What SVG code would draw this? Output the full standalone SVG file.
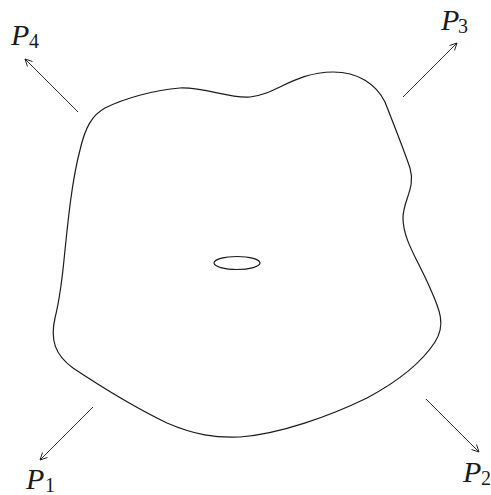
<svg xmlns="http://www.w3.org/2000/svg" width="491" height="495" viewBox="0 0 491 495">
<style>
.shape{fill:none;stroke:#1a1a1a;stroke-width:1.2}
.arr{fill:none;stroke:#1a1a1a;stroke-width:0.9;marker-end:url(#ah)}
.lbl{font-family:"Liberation Serif","DejaVu Serif",serif;font-style:italic;font-size:30px;fill:#1a1a1a}
.sub{font-family:"Liberation Serif","DejaVu Serif",serif;font-size:20px;fill:#1a1a1a}
</style>
<defs>
<marker id="ah" markerUnits="userSpaceOnUse" markerWidth="12" markerHeight="12" refX="0" refY="0" viewBox="-10 -6 12 12" orient="auto">
<path d="M -7,-3.5 L 0,0 L -7,3.5" fill="none" stroke="#1a1a1a" stroke-width="0.9"/>
</marker>
</defs>
<rect width="491" height="495" fill="#ffffff"/>
<g id="region">
<path class="shape" d="M 105,108 C 125,98 155,90 180,88 C 205,87 230,99 250,97 C 275,95 295,72 333,72 C 358,72 376,84 385,102 C 394,125 404,150 410,168 C 416,188 403,200 403,218 C 403,240 418,260 430,288 C 440,310 446,325 435,342 C 420,365 395,383 367,398 C 330,416 280,434 240,437 C 215,438 195,435 167,423 C 140,410 100,386 73,368 C 55,355 50,340 55,318 C 60,298 62,280 64,260 C 68,220 72,180 80,150 C 85,128 92,115 105,108 Z"/>
</g>
<g id="hole">
<ellipse class="shape" cx="237" cy="263" rx="23" ry="6.5"/>
</g>
<g id="connectors">
<line class="arr" x1="78" y1="112" x2="25" y2="59"/>
<line class="arr" x1="403" y1="97" x2="457" y2="43"/>
<line class="arr" x1="93" y1="407" x2="40" y2="460"/>
<line class="arr" x1="426" y1="399" x2="479" y2="452"/>
</g>
<g id="P4"><text class="lbl" x="11" y="45">P</text><text class="sub" x="29" y="48">4</text></g>
<g id="P3"><text class="lbl" x="441" y="30">P</text><text class="sub" x="458" y="33">3</text></g>
<g id="P1"><text class="lbl" x="26" y="489">P</text><text class="sub" x="45" y="492">1</text></g>
<g id="P2"><text class="lbl" x="463" y="482">P</text><text class="sub" x="481" y="485">2</text></g>
</svg>
